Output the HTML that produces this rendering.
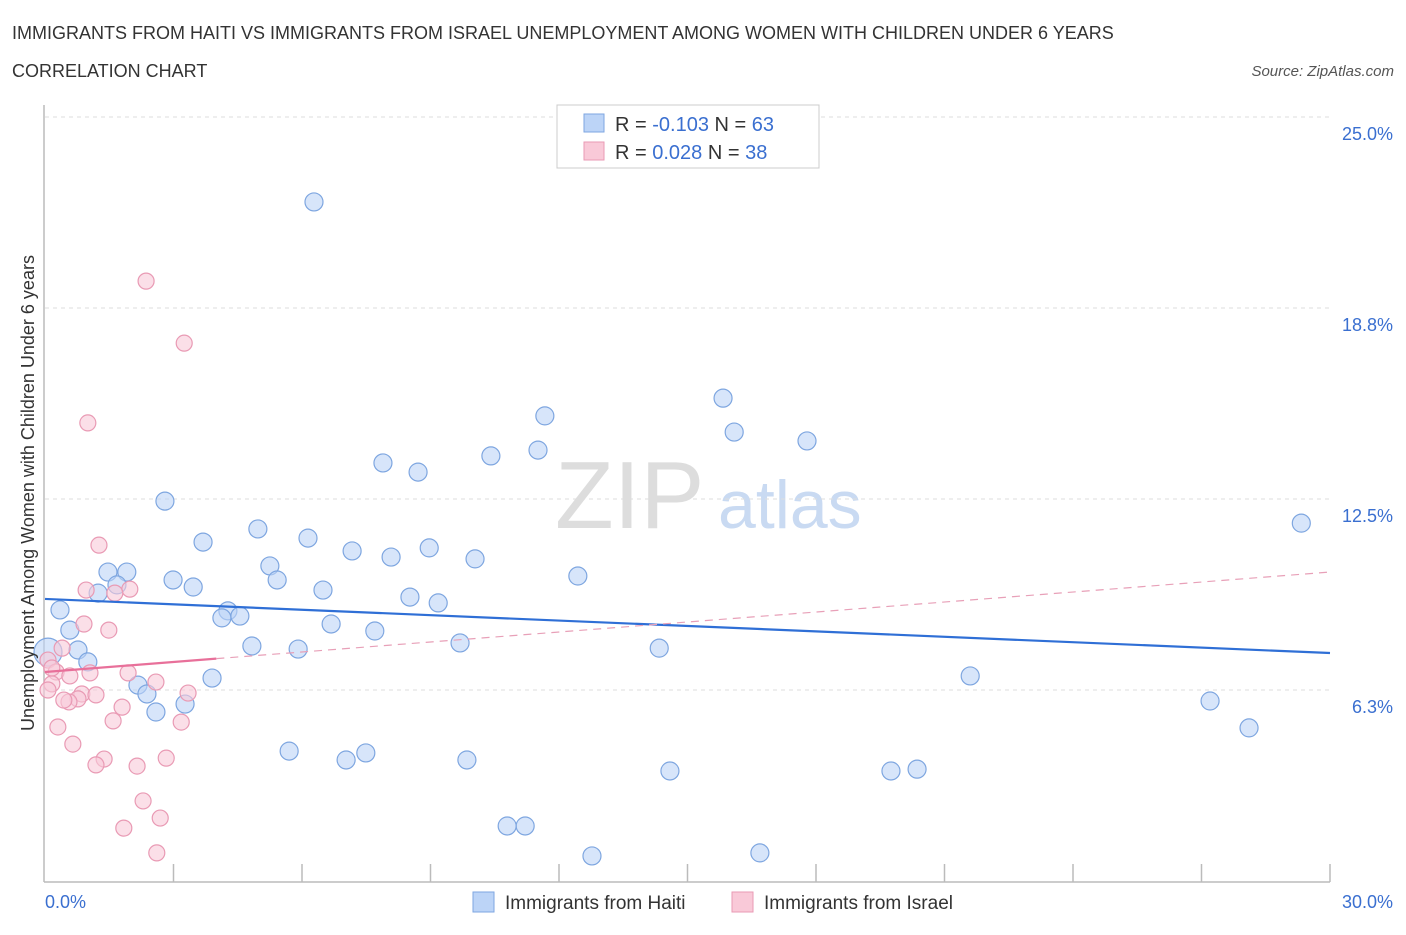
<!DOCTYPE html>
<html><head><meta charset="utf-8"><style>
body{margin:0;background:#fff;font-family:"Liberation Sans",sans-serif;}
svg text{font-family:"Liberation Sans",sans-serif;}
</style></head><body>
<svg id="chart" width="1406" height="930" xmlns="http://www.w3.org/2000/svg">
<text x="12" y="39" font-size="18" fill="#333">IMMIGRANTS FROM HAITI VS IMMIGRANTS FROM ISRAEL UNEMPLOYMENT AMONG WOMEN WITH CHILDREN UNDER 6 YEARS</text>
<text x="12" y="77" font-size="18" fill="#333">CORRELATION CHART</text>
<text x="1394" y="76" font-size="15" fill="#555" font-style="italic" text-anchor="end">Source: ZipAtlas.com</text>
<text x="555" y="528" font-size="96" fill="#ddd" font-family="Liberation Serif">ZIP</text>
<text x="718" y="528" font-size="68" fill="#c9daf2">atlas</text>
<g id="grid"></g>
<g id="axes"></g>
<g id="points"></g>
<g id="trends"></g>
<text transform="translate(34,493) rotate(-90)" font-size="18" fill="#333" text-anchor="middle">Unemployment Among Women with Children Under 6 years</text>
<g>
<rect x="557" y="105" width="262" height="63" fill="#fff" stroke="#ccc"/>
<rect x="584" y="114" width="20" height="18" fill="#bcd4f7" stroke="#7ea6e0"/>
<rect x="584" y="142" width="20" height="18" fill="#f9c9d8" stroke="#e99ab4"/>
<text x="615" y="131" font-size="20" fill="#333">R = <tspan fill="#3a6fd0">-0.103</tspan>   N = <tspan fill="#3a6fd0">63</tspan></text>
<text x="615" y="159" font-size="20" fill="#333">R =  <tspan fill="#3a6fd0">0.028</tspan>   N = <tspan fill="#3a6fd0">38</tspan></text>
</g>
<g>
<rect x="473" y="892" width="21" height="20" fill="#bcd4f7" stroke="#7ea6e0"/>
<text x="505" y="909" font-size="19" fill="#333">Immigrants from Haiti</text>
<rect x="732" y="892" width="21" height="20" fill="#f9c9d8" stroke="#e99ab4"/>
<text x="764" y="909" font-size="19" fill="#333">Immigrants from Israel</text>
</g>
</svg>
<script>
const yTicks=[6.25,12.5,18.75,25];
const yTickLabels=["6.3%","12.5%","18.8%","25.0%"];
const xTickCount=10;
const xLabels=["0.0%","30.0%"];
const haitiX=[6.28,15.83,11.67,16.09,17.79,11.51,10.41,7.89,8.71,2.80,29.33,4.97,3.69,6.14,7.17,8.08,8.97,10.04,5.25,12.44,1.47,1.91,2.99,1.68,3.46,5.42,6.49,1.24,8.52,9.18,0.35,4.27,4.13,4.55,6.68,7.70,0.58,9.69,4.83,5.91,14.34,0.77,0.07,1.00,3.90,21.60,2.17,2.38,3.27,2.59,27.20,28.11,5.70,7.49,7.03,9.85,14.59,19.75,20.36,10.79,11.21,12.77,16.69];
const haitiY=[22.22,15.80,15.22,14.69,14.40,14.10,13.91,13.68,13.38,12.43,11.71,11.52,11.09,11.22,10.80,10.60,10.90,10.54,10.31,9.98,10.11,10.11,9.85,9.69,9.62,9.85,9.52,9.42,9.29,9.10,8.87,8.84,8.61,8.67,8.41,8.18,8.21,7.79,7.69,7.59,7.62,7.56,7.49,7.17,6.64,6.71,6.41,6.12,5.79,5.53,5.89,5.01,4.25,4.19,3.96,3.96,3.60,3.60,3.66,1.80,1.80,0.82,0.92];
const israelX=[2.36,3.25,1.00,1.26,0.96,1.98,1.63,0.91,1.49,0.40,0.07,0.26,0.58,1.05,1.94,2.59,0.16,0.07,0.86,3.34,1.19,0.77,0.56,1.80,1.59,3.18,0.30,0.65,1.38,1.19,2.15,2.83,2.29,2.69,1.84,2.61,0.44,0.16];
const israelY=[19.63,17.60,14.99,10.99,9.52,9.55,9.42,8.41,8.21,7.62,7.23,6.84,6.71,6.81,6.81,6.51,6.45,6.25,6.12,6.15,6.09,5.96,5.86,5.69,5.24,5.20,5.04,4.48,3.99,3.80,3.76,4.02,2.62,2.06,1.73,0.92,5.92,6.97];
const haitiTrend=[9.23,7.46];
const israelTrend=[6.84,10.11];
const israelSolidEnd=4.0;

const X0=45,X1=1330,Y0=881,PXPER=30.56;
const xs=v=>X0+v*(X1-X0)/30;
const ys=v=>Y0-v*PXPER;
const NS="http://www.w3.org/2000/svg";
function mk(tag,attrs,parent){const e=document.createElementNS(NS,tag);for(const k in attrs)e.setAttribute(k,attrs[k]);document.getElementById(parent).appendChild(e);return e;}

yTicks.forEach((t,i)=>{
  const g=mk('line',{x1:45,x2:1330,y1:ys(t),y2:ys(t),stroke:'#ddd','stroke-dasharray':'4,4'},'grid');
  
  
  const l=mk('text',{x:1393,y:ys(t)+23,'font-size':18,fill:'#3a6fd0','text-anchor':'end'},'grid');
  l.textContent=yTickLabels[i];
  
  
});
const ax=mk('line',{x1:44,x2:44,y1:105,y2:882,stroke:'#bbb','stroke-width':1.5},'axes');


const bx=mk('line',{x1:44,x2:1330,y1:882,y2:882,stroke:'#bbb','stroke-width':1.5},'axes');


for(let i=1;i<=xTickCount;i++){
  const v=i*30/xTickCount;
  const t=mk('line',{x1:xs(v),x2:xs(v),y1:864,y2:882,stroke:'#bbb','stroke-width':1.5},'axes');
  
  
}
const xl0=mk('text',{x:45,y:908,'font-size':18,fill:'#3a6fd0'},'axes');xl0.textContent=xLabels[0];


const xl1=mk('text',{x:1393,y:908,'font-size':18,fill:'#3a6fd0','text-anchor':'end'},'axes');xl1.textContent=xLabels[1];



haitiX.forEach((v,i)=>{
  const r=(i===42)?14:9;
  const c=mk('circle',{cx:xs(v),cy:ys(haitiY[i]),r:r,fill:'rgba(188,212,247,0.6)',stroke:'#7ea6e0','stroke-width':1.2},'points');
  
  
});
israelX.forEach((v,i)=>{
  const c=mk('circle',{cx:xs(v),cy:ys(israelY[i]),r:8,fill:'rgba(249,201,216,0.6)',stroke:'#e99ab4','stroke-width':1.2},'points');
  
  
});
const hl=mk('line',{x1:xs(0),y1:ys(haitiTrend[0]),x2:xs(30),y2:ys(haitiTrend[1]),stroke:'#2f6fd6','stroke-width':2.2},'trends');


const iy=x=>israelTrend[0]+(israelTrend[1]-israelTrend[0])*x/30;
const il=mk('line',{x1:xs(0),y1:ys(iy(0)),x2:xs(israelSolidEnd),y2:ys(iy(israelSolidEnd)),stroke:'#e8709a','stroke-width':2.2},'trends');


const id=mk('line',{x1:xs(israelSolidEnd),y1:ys(iy(israelSolidEnd)),x2:xs(30),y2:ys(iy(30)),stroke:'#e8a0b8','stroke-width':1.2,'stroke-dasharray':'8,6'},'trends');


</script>
</body></html>
